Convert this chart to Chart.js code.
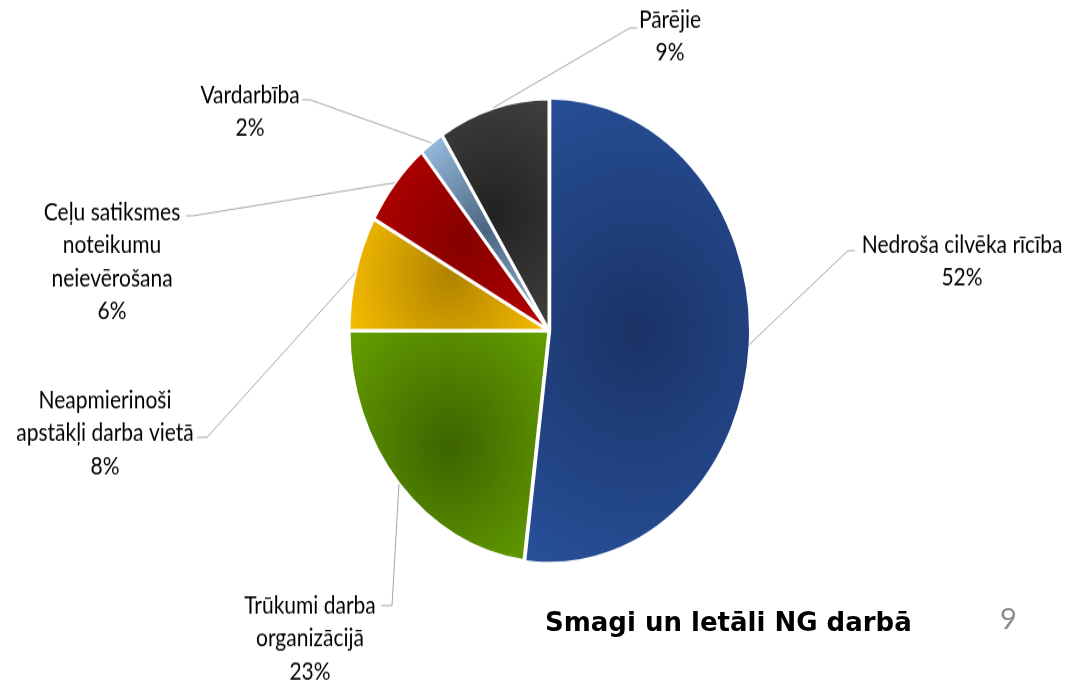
<!DOCTYPE html>
<html lang="lv">
<head>
  <meta charset="UTF-8" />
  <title>Smagi un letāli NG darbā</title>
  <script src="https://cdn.jsdelivr.net/npm/chart.js"></script>
  <style>
    html, body { margin: 0; padding: 0; background: #fff; }
    body {
      width: 1072px;
      height: 682px;
      position: relative;
      overflow: hidden;
      font-family: Lato, sans-serif;
    }
    /* the original chart was pasted as a picture and stretched vertically */
    .stretch {
      position: absolute;
      left: 0;
      top: 0;
      width: 1072px;
      height: 588px;
      transform: scaleY(1.16);
      transform-origin: 0 0;
    }
    #title {
      position: absolute;
      left: 545px;
      top: 607px;
      line-height: 30px;
      font-family: "DejaVu Sans", sans-serif;
      font-weight: bold;
      font-size: 26px;
      color: #000;
    }
    #page {
      position: absolute;
      left: 1000px;
      top: 600px;
      font-size: 29px;
      color: #8c8c8c;
    }
  </style>
</head>
<body>
  <div class="stretch">
    <canvas id="pie" width="1072" height="588"></canvas>
  </div>
  <div id="title">Smagi un letāli NG darbā</div>
  <div id="page">9</div>

  <script>
  const categories = [
    "Nedroša cilvēka rīcība",
    "Trūkumi darba organizācijā",
    "Neapmierinoši apstākļi darba vietā",
    "Ceļu satiksmes noteikumu neievērošana",
    "Vardarbība",
    "Pārējie"
  ];
  const shares = [52, 23, 8, 6, 2, 9];
  // how each label is broken into lines on the slide
  const labelLines = [
    ["Nedroša cilvēka rīcība"],
    ["Trūkumi darba", "organizācijā"],
    ["Neapmierinoši", "apstākļi darba vietā"],
    ["Ceļu satiksmes", "noteikumu", "neievērošana"],
    ["Vardarbība"],
    ["Pārējie"]
  ];
  const edgeColors   = ["#28509a", "#66a000", "#f8be00", "#b80000", "#9dc3e6", "#404040"];
  const centerColors = ["#1a3366", "#3d6400", "#b08300", "#850000", "#4a6580", "#222222"];

  // label placement (unstretched canvas px): text centre x, first line y, leader elbow, leader end x
  const labelLayout = [
    { x: 962, y: 211, elbow: [848, 216], endX: 855 },
    { x: 310, y: 522, elbow: [392, 522], endX: 381 },
    { x: 105, y: 345, elbow: [207, 377], endX: 197 },
    { x: 112, y: 183, elbow: [193, 186], endX: 186 },
    { x: 250, y: 82,  elbow: [310, 86],  endX: 302 },
    { x: 670, y: 17,  elbow: [630, 24],  endX: 637 }
  ];
  const lineGap = 28.5;

  const total = shares.reduce((a, b) => a + b, 0);

  // radial shading like Excel's path gradient: centred in each slice's bounding box
  function sliceFill(context) {
    const chart = context.chart;
    const area = chart.chartArea;
    const i = context.dataIndex;
    if (!area) return edgeColors[i];
    const ctrl = chart.getDatasetMeta(0).controller;
    const r = ctrl.outerRadius || 200;
    const cx = (area.left + area.right) / 2;
    const cy = (area.top + area.bottom) / 2;
    let before = 0;
    for (let k = 0; k < i; k++) before += shares[k];
    const a0 = -Math.PI / 2 + 2 * Math.PI * before / total;
    const a1 = a0 + 2 * Math.PI * shares[i] / total;
    let minX = cx, maxX = cx, minY = cy, maxY = cy;
    for (let s = 0; s <= 30; s++) {
      const a = a0 + (a1 - a0) * s / 30;
      const px = cx + r * Math.cos(a), py = cy + r * Math.sin(a);
      minX = Math.min(minX, px); maxX = Math.max(maxX, px);
      minY = Math.min(minY, py); maxY = Math.max(maxY, py);
    }
    const gx = (minX + maxX) / 2, gy = (minY + maxY) / 2;
    const gr = Math.hypot(maxX - minX, maxY - minY) / 2;
    const g = chart.ctx.createRadialGradient(gx, gy, 0, gx, gy, gr);
    g.addColorStop(0, centerColors[i]);
    g.addColorStop(1, edgeColors[i]);
    return g;
  }

  const leaderLabels = {
    id: "leaderLabels",
    afterDatasetsDraw(chart) {
      const c = chart.ctx;
      const arcs = chart.getDatasetMeta(0).data;
      c.save();
      arcs.forEach((arc, i) => {
        const p = arc.getProps(["x", "y", "startAngle", "endAngle", "outerRadius"], true);
        const mid = (p.startAngle + p.endAngle) / 2;
        const sx = p.x + Math.cos(mid) * p.outerRadius;
        const sy = p.y + Math.sin(mid) * p.outerRadius;
        const L = labelLayout[i];
        c.strokeStyle = "#a6a6a6";
        c.lineWidth = 1;
        c.beginPath();
        c.moveTo(sx, sy);
        c.lineTo(L.elbow[0], L.elbow[1]);
        c.lineTo(L.endX, L.elbow[1]);
        c.stroke();

        c.fillStyle = "#000";
        c.font = "21px Lato, sans-serif";
        c.textAlign = "center";
        c.textBaseline = "middle";
        const lines = labelLines[i].concat([shares[i] + "%"]);
        lines.forEach((t, j) => c.fillText(t, L.x, L.y + j * lineGap));
      });
      c.restore();
    }
  };

  new Chart(document.getElementById("pie"), {
    type: "pie",
    data: {
      labels: categories,
      datasets: [{
        data: shares,
        backgroundColor: sliceFill,
        borderColor: "#ffffff",
        borderWidth: 3,
        offset: [3, 0, 0, 0, 0, 0]
      }]
    },
    options: {
      responsive: false,
      maintainAspectRatio: false,
      devicePixelRatio: 1,
      animation: false,
      layout: { padding: { left: 346, right: 320, top: 82, bottom: 100 } },
      plugins: {
        legend: { display: false },
        tooltip: { enabled: false }
      }
    },
    plugins: [leaderLabels]
  });
  </script>
</body>
</html>
